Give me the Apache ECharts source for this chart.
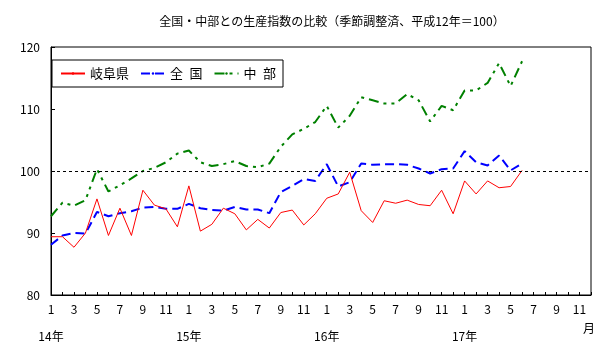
<!DOCTYPE html>
<html>
<head>
<meta charset="utf-8">
<script src="https://cdn.jsdelivr.net/npm/echarts@6/dist/echarts.min.js"></script>
<style>
  html, body { margin: 0; padding: 0; background: #fff; }
  #chart { width: 604px; height: 352px; }
</style>
</head>
<body>
<div id="chart"></div>
<script>
// 平成14年1月〜17年12月 (48 months), data through 17年6月
const years = ['14年', '15年', '16年', '17年'];
const months = ['1', '2', '3', '4', '5', '6', '7', '8', '9', '10', '11', '12'];
const categories = years.flatMap(() => months);

const gifu = [
  89.4, 89.4, 87.7, 90.0, 95.5, 89.6, 94.0, 89.6, 96.9, 94.5, 93.9, 91.0,
  97.6, 90.3, 91.4, 94.0, 93.1, 90.5, 92.2, 90.8, 93.3, 93.7, 91.3, 93.1,
  95.6, 96.3, 99.8, 93.6, 91.7, 95.2, 94.8, 95.3, 94.6, 94.4, 96.9, 93.1,
  98.4, 96.3, 98.4, 97.3, 97.5, 100.1
];
const zenkoku = [
  88.1, 89.6, 90.0, 89.9, 93.4, 92.7, 93.2, 93.5, 94.1, 94.2, 93.9, 93.9,
  94.7, 94.0, 93.7, 93.6, 94.2, 93.8, 93.8, 93.2, 96.6, 97.6, 98.7, 98.4,
  101.1, 97.5, 98.2, 101.2, 101.0, 101.1, 101.1, 101.0, 100.4, 99.6, 100.3, 100.4,
  103.2, 101.4, 100.9, 102.5, 100.1, 101.2
];
const chubu = [
  92.7, 94.9, 94.4, 95.3, 100.3, 96.7, 97.7, 98.8, 100.0, 100.5, 101.4, 102.8,
  103.3, 101.4, 100.8, 101.1, 101.6, 100.8, 100.6, 101.2, 103.9, 105.9, 106.8, 107.9,
  110.5, 107.0, 108.9, 111.9, 111.4, 110.9, 110.9, 112.4, 111.4, 108.0, 110.5, 109.8,
  113.0, 113.0, 114.2, 117.4, 113.7, 117.7
];

const font = "'Noto Sans CJK JP', sans-serif";
const chart = echarts.init(document.getElementById('chart'));

chart.setOption({
  animation: false,
  title: {
    text: '全国・中部との生産指数の比較（季節調整済、平成12年＝100）',
    left: 327,
    textAlign: 'center',
    top: 10,
    textStyle: { fontFamily: font, fontSize: 12, fontWeight: 'normal', color: '#000' }
  },
  legend: {
    left: 52,
    top: 60,
    padding: [6, 7, 6, 8],
    itemGap: 11,
    itemWidth: 24,
    itemHeight: 3,
    borderColor: '#000',
    borderWidth: 1,
    borderRadius: 0,
    backgroundColor: '#fff',
    textStyle: { fontFamily: font, fontSize: 13, color: '#000', lineHeight: 15 },
    data: ['岐阜県', '全\u2002国', '中\u2002部']
  },
  grid: {
    left: 51,
    right: 13,
    top: 47,
    bottom: 57,
    show: true,
    borderColor: '#000',
    borderWidth: 1
  },
  xAxis: [
    {
      type: 'category',
      data: categories,
      boundaryGap: false,
      axisLine: { lineStyle: { color: '#000' } },
      axisTick: { inside: true, length: 3, interval: 0, lineStyle: { color: '#000' } },
      axisLabel: {
        interval: 1,
        margin: 8,
        color: '#000',
        fontFamily: font,
        fontSize: 12
      },
      splitLine: { show: false }
    },
    {
      type: 'category',
      data: categories,
      position: 'bottom',
      boundaryGap: false,
      axisLine: { show: false },
      axisTick: { show: false },
      axisLabel: {
        interval: 0,
        margin: 35,
        color: '#000',
        fontFamily: font,
        fontSize: 12,
        formatter: (v, i) => (i % 12 === 0 ? years[i / 12] : '')
      },
      splitLine: { show: false }
    }
  ],
  yAxis: {
    type: 'value',
    min: 80,
    max: 120,
    interval: 10,
    axisLine: { show: true, lineStyle: { color: '#000' } },
    axisTick: { show: true, inside: true, length: 4, lineStyle: { color: '#000' } },
    axisLabel: { margin: 11, color: '#000', fontFamily: font, fontSize: 12 },
    splitLine: { show: false }
  },
  graphic: [
    {
      type: 'text',
      left: 583,
      top: 322,
      style: { text: '月', fontFamily: font, fontSize: 12, fill: '#000' }
    }
  ],
  series: [
    {
      name: '岐阜県',
      type: 'line',
      data: gifu,
      symbol: 'none',
      color: '#ff0000',
      lineStyle: { color: '#ff0000', width: 1 },
      z: 4,
      markLine: {
        silent: true,
        symbol: 'none',
        label: { show: false },
        lineStyle: { color: '#000', width: 1, type: [3, 3] },
        data: [{ yAxis: 100 }]
      }
    },
    {
      name: '全\u2002国',
      type: 'line',
      data: zenkoku,
      symbol: 'none',
      color: '#0000ff',
      lineStyle: { color: '#0000ff', width: 2, type: [9, 5] },
      z: 3
    },
    {
      name: '中\u2002部',
      type: 'line',
      data: chubu,
      symbol: 'none',
      color: '#008000',
      lineStyle: { color: '#008000', width: 2, type: [10, 5, 3, 5, 3, 5] },
      z: 2
    }
  ]
});
</script>
</body>
</html>
